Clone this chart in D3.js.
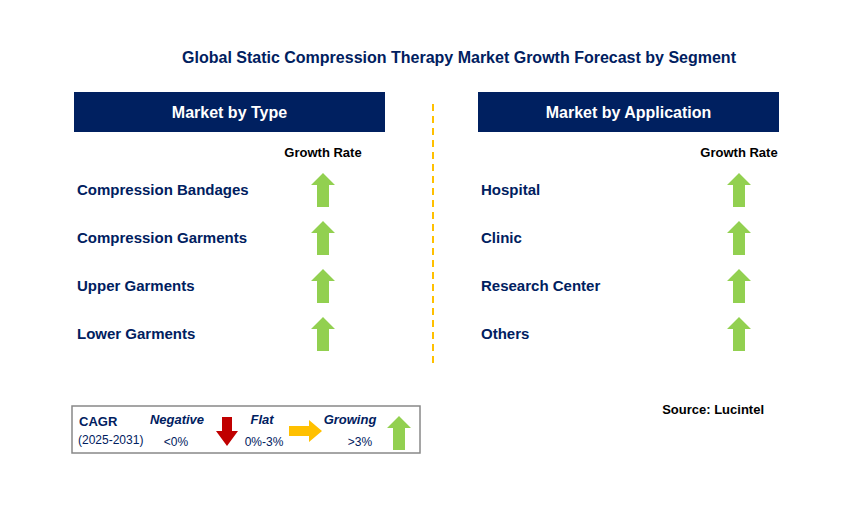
<!DOCTYPE html><html><head><meta charset="utf-8"><script src="https://cdn.jsdelivr.net/npm/d3@7"></script>
<style>body{margin:0;background:#fff}text{font-family:Arial,"Liberation Sans",sans-serif}</style></head><body>
<svg id="c" width="843" height="513"></svg>
<script>
const typeCategories=["Compression Bandages","Compression Garments","Upper Garments","Lower Garments"];
const typeGrowth=["Growing","Growing","Growing","Growing"];
const appCategories=["Hospital","Clinic","Research Center","Others"];
const appGrowth=["Growing","Growing","Growing","Growing"];
const legendLabels=["Negative","Flat","Growing"];
const legendRanges=["<0%","0%-3%",">3%"];
const svg=d3.select("#c");
const navy="#002060",green="#92d050",red="#c00000",amber="#ffc000";
svg.append("text").attr("x",459).attr("y",63).attr("text-anchor","middle").attr("font-size",16).attr("font-weight","bold").attr("fill","#002060").text("Global Static Compression Therapy Market Growth Forecast by Segment");
svg.append("line").attr("x1",433).attr("x2",433).attr("y1",104).attr("y2",366).attr("stroke",amber).attr("stroke-width",2).attr("stroke-dasharray","7,5");
function up(g,cx,cy,c){g.append("path").attr("d",`M${cx},${cy-17}L${cx+12},${cy-5}L${cx+6},${cy-5}L${cx+6},${cy+17}L${cx-6},${cy+17}L${cx-6},${cy-5}L${cx-12},${cy-5}Z`).attr("fill",c);}
function panel(x0,w,title,cats,vals,ax){
 svg.append("rect").attr("x",x0).attr("y",92).attr("width",w).attr("height",40).attr("fill",navy);
 svg.append("text").attr("x",x0+w/2).attr("y",118).attr("text-anchor","middle").attr("fill","#fff").attr("font-size",16).attr("font-weight","bold").text(title);
 svg.append("text").attr("x",ax).attr("y",157).attr("text-anchor","middle").attr("font-size",13).attr("font-weight","bold").attr("fill","#000").attr("font-family","Open Sans").text("Growth Rate");
 const y=d3.scaleBand().domain(cats).range([166,358]);
 cats.forEach((c,i)=>{const cy=y(c)+y.bandwidth()/2;
  svg.append("text").attr("x",x0+3).attr("y",cy+5).attr("font-size",15).attr("font-weight","bold").attr("fill",navy).text(c);
  if(vals[i]==="Growing")up(svg,ax,cy,green);});
}
panel(74,311,"Market by Type",typeCategories,typeGrowth,323);
panel(478,301,"Market by Application",appCategories,appGrowth,739);
svg.append("text").attr("x",764).attr("y",414).attr("text-anchor","end").attr("font-size",13).attr("font-weight","bold").attr("font-family","Open Sans").attr("fill","#000").text("Source: Lucintel");
const L=svg.append("g");
L.append("rect").attr("x",72).attr("y",406).attr("width",348).attr("height",47).attr("fill","#fff").attr("stroke","#888").attr("stroke-width",1.5);
L.append("text").attr("x",79).attr("y",426).attr("font-size",13).attr("font-weight","bold").attr("fill",navy).attr("font-family","Open Sans").text("CAGR");
L.append("text").attr("x",78).attr("y",444).attr("font-size",12).attr("fill",navy).attr("font-family","Open Sans").text("(2025-2031)");
const lx=[177,262,350],rx=[176,264,360];
legendLabels.forEach((l,i)=>{L.append("text").attr("x",lx[i]).attr("y",424).attr("text-anchor","middle").attr("font-size",13).attr("font-weight","bold").attr("font-style","italic").attr("fill",navy).attr("font-family","Open Sans").text(l);
 L.append("text").attr("x",rx[i]).attr("y",446).attr("text-anchor","middle").attr("font-size",12).attr("fill",navy).attr("font-family","Open Sans").text(legendRanges[i]);});
L.append("path").attr("d","M222,417L232,417L232,431L238,431L227,446L216,431L222,431Z").attr("fill",red);
L.append("path").attr("d","M289,426L309,426L309,420L322,431L309,442L309,436L289,436Z").attr("fill",amber);
up(L,399,433,green);
</script></body></html>
